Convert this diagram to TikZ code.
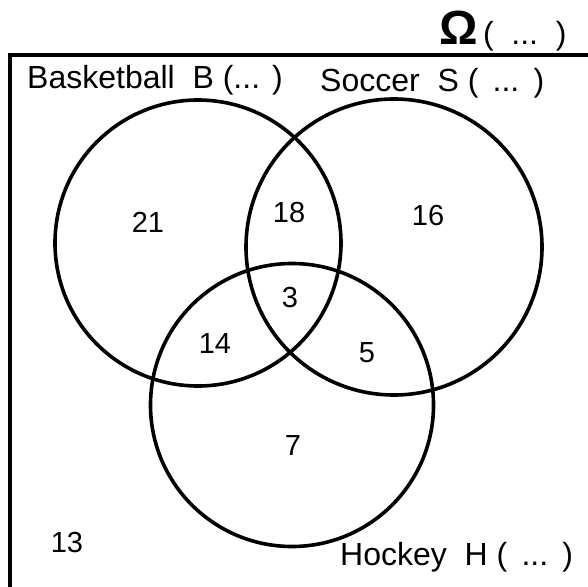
\documentclass[tikz,border=0pt]{standalone}
\usepackage{fontspec}
\setmainfont{Liberation Sans}
\usetikzlibrary{positioning}

\begin{document}
\begin{tikzpicture}[x=1pt,y=-1pt,
set/.style={circle,draw,line width=3.6pt,inner sep=0pt},
lbl/.style={anchor=west,inner sep=0pt,font=\fontsize{32}{38}\selectfont},
num/.style={inner sep=0pt,font=\fontsize{29}{34}\selectfont}]
\useasboundingbox (0,0) rectangle (588,586);
\draw[line width=4.6pt] (10,600) |- (592,55);
\node[set,minimum size=286pt](b) at (198,243) {};
\node[set,minimum size=296pt](s) at (394,247) {};
\node[set,minimum size=283pt](h) at (292,405) {};
% labels of the sets
\node[lbl](bl) at (27,80) {Basketball\ \ B (... )};
\node[lbl](sl) at (320,83) {Soccer\ \ S (\,\ ...\ \,)};
\node[lbl](hl) at (340,557) {Hockey\ \ H (\ \,...\ \,)};
\node[lbl](om) at (439,31) {{\fontsize{48}{48}\selectfont\bfseries\symbol{"03A9}}\,(\ \ ...\ \ )};
% counts
\node[num](n1) at (148,222) {21};
\node[num](n2) at (289,213) {18};
\node[num](n3) at (428,216) {16};
\node[num](n4) at (290,298) {3};
\node[num](n5) at (215,344) {14};
\node[num](n6) at (367,353) {5};
\node[num](n7) at (293,446) {7};
\node[num](n8) at (67,543) {13};
\end{tikzpicture}
\end{document}
